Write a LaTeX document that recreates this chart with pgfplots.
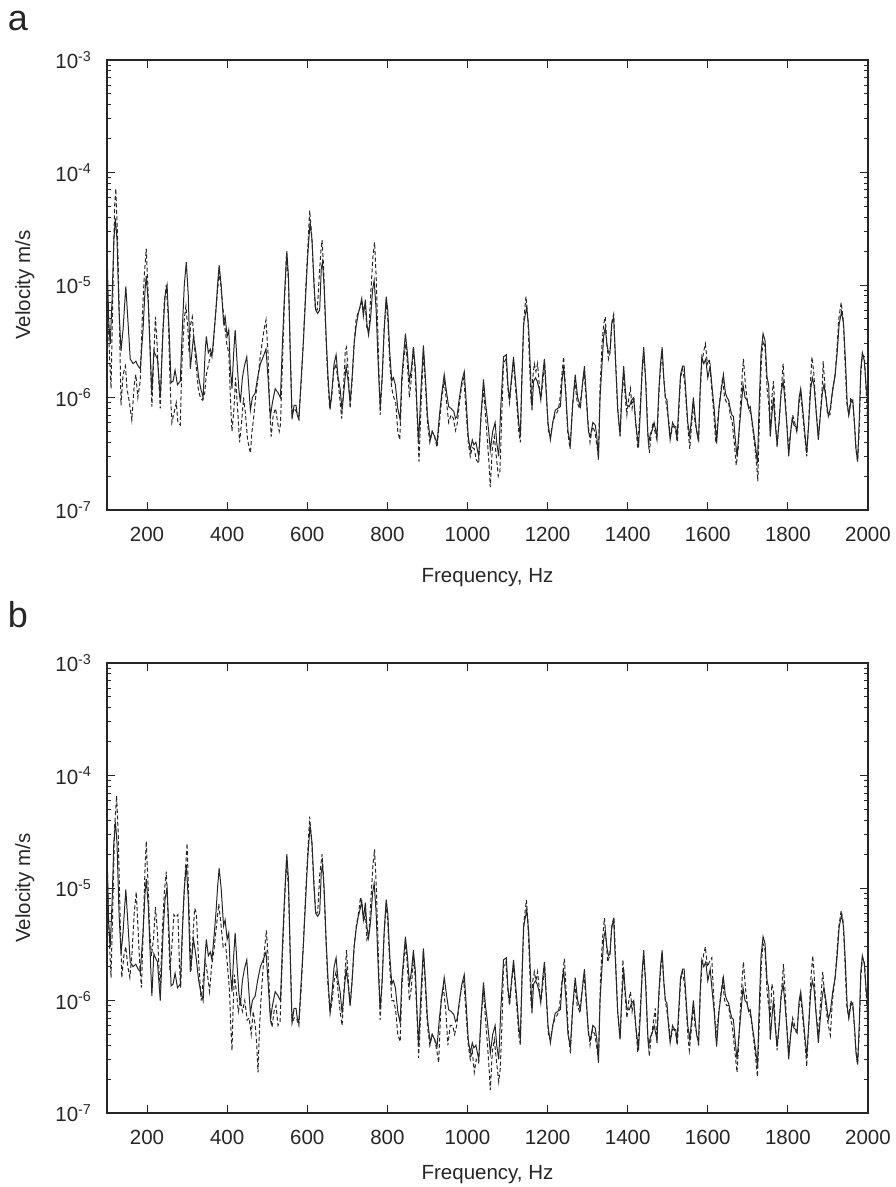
\documentclass[border=0pt]{standalone}
\usepackage{fontspec}
\setmainfont{Liberation Sans}
\usepackage{pgfplots}
\pgfplotsset{compat=1.18}
\usepackage{pgfplotstable}

\pgfplotstableread{
f v
100 2.2e-5
104 5e-6
108 3.0e-6
113 8e-6
117 2.5e-5
121 3.9e-5
125 2.5e-5
130 6e-6
135 2.6e-6
140 4e-6
147 9.7e-6
152 5e-6
158 2.2e-6
165 2.0e-6
172 2.1e-6
178 1.9e-6
183 1.8e-6
190 4e-6
195 9e-6
198 1.2e-5
203 7e-6
208 2.5e-6
212 1.1e-6
217 2.6e-6
221 2.4e-6
226 2.2e-6
233 1.0e-6
240 4e-6
245 8e-6
250 1.0e-5
255 4e-6
260 1.35e-6
265 1.4e-6
270 1.75e-6
276 1.3e-6
283 1.4e-6
288 4e-6
293 1.0e-5
298 1.6e-5
303 8e-6
308 1.8e-6
312 2.5e-6
316 3.5e-6
322 2.5e-6
329 1.5e-6
334 1.2e-6
340 1.0e-6
345 2.5e-6
348 3.5e-6
353 2.5e-6
358 2.7e-6
362 2.3e-6
368 4e-6
372 6e-6
376 1.0e-5
380 1.5e-5
385 1.0e-5
391 4.6e-6
395 5.2e-6
400 3.5e-6
404 4.0e-6
408 1.8e-6
412 1.2e-6
416 2.4e-6
420 4.0e-6
425 2.0e-6
429 1.2e-6
433 9e-7
438 1.5e-6
443 1.9e-6
449 2.3e-6
453 1.4e-6
458 7.7e-7
463 1.0e-6
470 1.1e-6
476 1.5e-6
483 2.0e-6
490 2.3e-6
497 2.7e-6
502 1.5e-6
508 6.8e-7
513 9e-7
520 1.2e-6
527 1.1e-6
533 1.0e-6
538 3e-6
543 8e-6
549 2.0e-5
553 1.2e-5
557 3e-6
562 6.4e-7
567 8.5e-7
572 8.5e-7
575 7e-7
579 6.4e-7
585 1.5e-6
590 3e-6
596 8e-6
601 1.8e-5
607 3.6e-5
612 2.5e-5
617 1.0e-5
621 6e-6
626 5.6e-6
631 6e-6
635 1.4e-5
638 1.6e-5
642 1.0e-5
647 3.5e-6
652 1.5e-6
657 7.8e-7
662 1.2e-6
667 2.0e-6
672 2.4e-6
677 1.5e-6
682 1.2e-6
687 7.7e-7
692 1.2e-6
697 1.9e-6
702 1.4e-6
707 9e-7
712 1.5e-6
717 3e-6
722 4.3e-6
727 5.5e-6
732 6.5e-6
736 7.6e-6
740 5.3e-6
745 7.4e-6
749 4.5e-6
753 3.6e-6
758 5e-6
763 9e-6
767 1.1e-5
772 6e-6
777 2e-6
782 8.3e-7
787 1.5e-6
792 4e-6
797 7.9e-6
801 6e-6
806 2.5e-6
811 1.4e-6
815 1.5e-6
820 1.3e-6
826 8e-7
832 6.3e-7
836 1.5e-6
841 2.5e-6
845 3.7e-6
850 2.5e-6
855 1.4e-6
860 1.8e-6
865 2.8e-6
870 1.8e-6
874 8e-7
878 4.0e-7
884 1.2e-6
890 2.9e-6
895 1.5e-6
900 7e-7
907 4.2e-7
912 5.0e-7
918 4.5e-7
924 3.9e-7
930 7e-7
936 1.1e-6
942 1.6e-6
948 1.1e-6
953 8.3e-7
959 8e-7
966 7.5e-7
970 6.5e-7
974 6.8e-7
980 1.0e-6
986 1.4e-6
992 1.7e-6
997 9e-7
1002 4.5e-7
1007 3.4e-7
1012 4.2e-7
1016 3.8e-7
1021 4.0e-7
1028 3.0e-7
1035 8e-7
1040 1.45e-6
1045 9e-7
1049 6.8e-7
1053 5e-7
1057 3.4e-7
1063 5e-7
1069 6e-7
1073 4e-7
1078 3.0e-7
1083 8e-7
1090 2.3e-6
1097 2.4e-6
1101 1.3e-6
1105 9.5e-7
1110 1.5e-6
1115 2.3e-6
1120 1.4e-6
1124 9.5e-7
1128 6e-7
1132 4.5e-7
1136 1.5e-6
1140 4.5e-6
1148 6.4e-6
1153 4.0e-6
1157 1.8e-6
1161 7.7e-7
1165 1.4e-6
1170 1.5e-6
1174 1.4e-6
1179 1.2e-6
1183 9.5e-7
1188 1.6e-6
1192 2.2e-6
1196 1.2e-6
1201 6e-7
1207 4.2e-7
1213 6e-7
1219 7.7e-7
1225 8e-7
1232 8.3e-7
1236 1.4e-6
1240 1.9e-6
1246 1.0e-6
1251 5e-7
1257 3.9e-7
1263 9e-7
1269 1.6e-6
1275 1.0e-6
1282 8.3e-7
1287 1.3e-6
1292 1.9e-6
1297 1.0e-6
1302 5e-7
1307 4.5e-7
1313 6e-7
1319 5.7e-7
1323 4.5e-7
1327 2.8e-7
1331 1.0e-6
1336 2.0e-6
1340 3.5e-6
1344 4.2e-6
1348 3.0e-6
1352 2.5e-6
1356 2.6e-6
1360 4.5e-6
1365 5.2e-6
1370 2.0e-6
1375 8e-7
1381 4.6e-7
1385 1.0e-6
1390 1.9e-6
1394 1.2e-6
1398 8.5e-7
1404 8.3e-7
1410 9.5e-7
1415 1.0e-6
1420 6e-7
1427 3.6e-7
1432 8e-7
1436 1.8e-6
1440 2.8e-6
1445 1.4e-6
1450 5e-7
1452 3.9e-7
1457 4.8e-7
1461 5.1e-7
1466 6e-7
1473 4.5e-7
1478 1.2e-6
1482 2.0e-6
1486 2.8e-6
1490 1.5e-6
1494 1.0e-6
1498 9.5e-7
1502 6e-7
1506 4.2e-7
1512 6e-7
1516 5.6e-7
1520 5.5e-7
1523 4.2e-7
1528 9e-7
1532 1.6e-6
1537 1.9e-6
1541 1.9e-6
1546 1.0e-6
1550 6e-7
1555 4.5e-7
1560 7e-7
1564 1.0e-6
1568 7e-7
1572 5e-7
1577 4.2e-7
1581 1.2e-6
1585 2.3e-6
1590 2.0e-6
1595 2.2e-6
1600 1.5e-6
1606 1.9e-6
1611 1.2e-6
1616 8e-7
1622 3.9e-7
1628 8e-7
1634 1.2e-6
1639 1.6e-6
1644 1.1e-6
1648 1.0e-6
1652 9.5e-7
1656 8e-7
1660 7e-7
1664 6.8e-7
1668 4.5e-7
1673 3.0e-7
1678 5e-7
1683 8e-7
1688 1.3e-6
1693 1.0e-6
1698 9.5e-7
1702 8e-7
1706 8.3e-7
1711 6e-7
1716 4.5e-7
1720 3.5e-7
1724 2.6e-7
1728 8e-7
1733 2.5e-6
1738 3.7e-6
1743 3.2e-6
1748 1.5e-6
1752 1.3e-6
1756 4.5e-7
1760 7e-7
1764 1.0e-6
1768 6e-7
1773 3.9e-7
1778 6e-7
1783 1.1e-6
1788 1.4e-6
1792 1.0e-6
1797 6e-7
1802 3.0e-7
1807 5e-7
1811 6.5e-7
1815 5.7e-7
1820 5.5e-7
1823 5.2e-7
1828 1.0e-6
1832 1.2e-6
1837 8e-7
1842 5e-7
1847 3.2e-7
1852 6e-7
1857 1.2e-6
1861 1.5e-6
1865 1.3e-6
1870 8e-7
1876 4.2e-7
1881 7e-7
1886 1.1e-6
1890 1.3e-6
1895 1.0e-6
1901 6.8e-7
1906 8e-7
1912 1.2e-6
1918 1.6e-6
1923 2.5e-6
1928 4.5e-6
1934 5.8e-6
1939 4.5e-6
1944 2.0e-6
1948 9e-7
1952 7e-7
1957 9e-7
1962 9.5e-7
1966 6e-7
1970 3.5e-7
1974 2.7e-7
1978 6e-7
1982 1.8e-6
1986 2.5e-6
1991 2.1e-6
1995 1.3e-6
2000 9e-7
}\solid

\pgfplotstableread{
f v
100 1.0e-5
105 3e-6
110 1.2e-6
115 1.0e-5
119 5e-5
122 7.2e-5
126 3e-5
131 5e-6
135 8.5e-7
140 1.6e-6
146 1.9e-6
150 1.2e-6
156 9e-7
162 6.3e-7
168 1.3e-6
172 1.6e-6
177 1.0e-6
183 1.4e-6
188 5e-6
193 1.2e-5
198 2.1e-5
202 1.0e-5
207 3e-6
212 8.3e-7
216 2e-6
221 5.2e-6
225 3e-6
230 1.3e-6
233 8e-7
238 3e-6
243 7e-6
248 1.0e-5
253 5e-6
258 1.2e-6
262 6e-7
268 7.5e-7
273 9e-7
277 6e-7
283 5.7e-7
287 2e-6
293 5e-6
297 6.5e-6
302 4e-6
305 2.5e-6
309 4.5e-6
313 5.2e-6
318 3e-6
322 2e-6
328 1.2e-6
333 1.0e-6
338 9.5e-7
344 1.1e-6
348 1.6e-6
354 2.0e-6
359 2.5e-6
364 2.5e-6
370 5e-6
375 8e-6
380 1.3e-5
384 1.0e-5
390 6e-6
395 4e-6
399 3e-6
404 2.5e-6
408 1.0e-6
412 5e-7
417 8e-7
421 1.5e-6
426 8e-7
431 4.0e-7
436 6e-7
441 1.0e-6
446 7e-7
451 4.2e-7
458 3.2e-7
462 5e-7
466 6.5e-7
471 1.0e-6
477 1.5e-6
482 2.2e-6
487 3e-6
492 4e-6
497 4.9e-6
502 2.5e-6
506 8e-7
510 4.5e-7
515 7e-7
521 8e-7
526 6e-7
530 5e-7
533 5.7e-7
538 2e-6
543 7e-6
548 1.8e-5
553 1.1e-5
557 3e-6
562 7e-7
567 8e-7
573 7.5e-7
579 6.5e-7
585 1.4e-6
590 3e-6
596 9e-6
601 2.0e-5
606 4.6e-5
611 2.8e-5
616 1.2e-5
620 6e-6
625 6e-6
630 1.2e-5
634 2.0e-5
637 2.5e-5
641 1.4e-5
646 4e-6
651 1.5e-6
656 8e-7
661 1.0e-6
666 1.7e-6
671 2.0e-6
676 1.5e-6
681 1.0e-6
686 6.5e-7
691 1.3e-6
695 2.6e-6
698 2.8e-6
703 1.5e-6
707 8e-7
712 1.4e-6
717 3e-6
722 5e-6
728 5.8e-6
733 6.5e-6
737 7e-6
741 6e-6
745 6.5e-6
749 4e-6
754 4e-6
759 9e-6
764 1.8e-5
768 2.4e-5
772 1.2e-5
777 3e-6
782 7e-7
787 1.5e-6
792 4e-6
797 7e-6
801 5e-6
806 2e-6
811 1.2e-6
816 1.0e-6
821 9e-7
826 5e-7
831 4.2e-7
836 1.3e-6
841 2.2e-6
846 3.0e-6
850 2.0e-6
855 1.0e-6
860 1.5e-6
865 2.8e-6
870 1.5e-6
875 6e-7
879 2.7e-7
885 1.0e-6
890 2.6e-6
895 1.3e-6
900 6e-7
906 4e-7
912 5e-7
918 4.5e-7
924 3.6e-7
930 6e-7
936 1.0e-6
942 1.4e-6
948 9e-7
953 6e-7
959 7e-7
965 6.5e-7
970 5.1e-7
975 6e-7
980 9e-7
986 1.3e-6
991 1.5e-6
996 8e-7
1002 4e-7
1007 3e-7
1012 3.6e-7
1017 3.5e-7
1022 2.8e-7
1028 2.6e-7
1034 7e-7
1040 1.2e-6
1045 7e-7
1050 4e-7
1054 2.5e-7
1057 1.6e-7
1062 3.5e-7
1067 4.5e-7
1072 3e-7
1077 2.0e-7
1081 2.2e-7
1085 6e-7
1090 2e-6
1096 2.2e-6
1101 1.2e-6
1105 9e-7
1110 1.4e-6
1115 2.1e-6
1120 1.2e-6
1124 8e-7
1128 5e-7
1132 4e-7
1136 1.6e-6
1141 5e-6
1146 7.9e-6
1151 5e-6
1155 2e-6
1159 9e-7
1163 1.5e-6
1167 2.0e-6
1171 1.7e-6
1175 2.0e-6
1180 1.2e-6
1184 1.0e-6
1189 1.5e-6
1193 2.0e-6
1197 1.1e-6
1202 5e-7
1207 4.5e-7
1213 6e-7
1219 7e-7
1225 7.5e-7
1230 9e-7
1235 1.5e-6
1240 2.3e-6
1245 1.2e-6
1250 5e-7
1256 3.5e-7
1262 8e-7
1268 1.4e-6
1274 9e-7
1280 8e-7
1286 1.2e-6
1291 1.7e-6
1296 1.0e-6
1301 6e-7
1306 4e-7
1312 5.5e-7
1318 5e-7
1322 4e-7
1327 3e-7
1331 1.2e-6
1336 3e-6
1340 4.5e-6
1344 5.2e-6
1348 3e-6
1352 2.2e-6
1356 2.5e-6
1361 4.8e-6
1365 5.5e-6
1370 2e-6
1375 8e-7
1381 4.5e-7
1385 1.0e-6
1390 1.6e-6
1394 1.0e-6
1398 7e-7
1403 1.0e-6
1407 1.2e-6
1411 8e-7
1415 1.0e-6
1420 6e-7
1425 3.5e-7
1431 8e-7
1436 1.6e-6
1440 2.5e-6
1445 1.4e-6
1450 5e-7
1454 3.2e-7
1458 4.5e-7
1463 6e-7
1468 5e-7
1473 4.2e-7
1478 1.1e-6
1482 1.8e-6
1486 2.6e-6
1490 1.5e-6
1494 1.0e-6
1498 8e-7
1503 6e-7
1507 4.5e-7
1512 5.5e-7
1516 5.5e-7
1520 5e-7
1524 4e-7
1528 8e-7
1532 1.5e-6
1537 1.8e-6
1542 1.4e-6
1546 9e-7
1551 5e-7
1555 3.5e-7
1560 6e-7
1564 9e-7
1568 6e-7
1573 5e-7
1577 4e-7
1581 1.1e-6
1585 2.0e-6
1590 2.6e-6
1594 3.0e-6
1599 2.0e-6
1604 2.2e-6
1609 1.3e-6
1614 8e-7
1620 4e-7
1626 7e-7
1632 1.1e-6
1637 1.5e-6
1642 1.0e-6
1647 9e-7
1652 9e-7
1656 7e-7
1661 6e-7
1666 4e-7
1671 2.5e-7
1676 3.5e-7
1681 8e-7
1686 1.6e-6
1689 2.2e-6
1694 1.3e-6
1699 9e-7
1703 8e-7
1708 7e-7
1713 5e-7
1718 3.5e-7
1722 2.5e-7
1725 1.8e-7
1729 7e-7
1734 2.2e-6
1738 3.2e-6
1743 2.8e-6
1748 1.2e-6
1752 9e-7
1756 5e-7
1760 1.0e-6
1764 1.4e-6
1768 7e-7
1773 3.6e-7
1778 6e-7
1783 1.1e-6
1788 2.0e-6
1792 1.2e-6
1797 6e-7
1802 3.5e-7
1807 5e-7
1812 7e-7
1817 6e-7
1822 5e-7
1828 9e-7
1832 1.1e-6
1837 7e-7
1842 4.5e-7
1847 3e-7
1852 6e-7
1856 1.3e-6
1860 2.3e-6
1865 1.6e-6
1870 8e-7
1876 4.5e-7
1881 7e-7
1886 1.3e-6
1888 2.1e-6
1893 1.2e-6
1899 7e-7
1905 7e-7
1911 1.1e-6
1917 1.5e-6
1922 2.5e-6
1927 5e-6
1933 7e-6
1938 5e-6
1943 2.0e-6
1947 9e-7
1952 7e-7
1957 1.0e-6
1962 9e-7
1966 6e-7
1970 3.5e-7
1974 2.7e-7
1978 5e-7
1982 1.6e-6
1986 2.4e-6
1991 2.3e-6
1995 1.2e-6
2000 5e-7
}\dasha

\pgfplotstableread{
f v
100 2.0e-5
104 5e-6
110 1.6e-6
115 8e-6
119 3.5e-5
124 6.6e-5
128 3e-5
133 5e-6
137 1.6e-6
142 2.5e-6
147 3e-6
152 2.0e-6
157 1.6e-6
162 2.5e-6
168 6e-6
173 9.2e-6
178 4e-6
182 2e-6
186 1.3e-6
191 5e-6
195 1.5e-5
198 2.6e-5
202 1.2e-5
207 4e-6
211 2.5e-6
216 3.5e-6
221 6.8e-6
226 4e-6
230 1.8e-6
233 1.3e-6
238 4e-6
243 9e-6
248 1.4e-5
252 6e-6
257 1.85e-6
262 3e-6
267 5.8e-6
272 5.5e-6
277 5.8e-6
281 2.0e-6
284 1.3e-6
289 5e-6
295 1.3e-5
300 2.5e-5
305 6e-6
310 1.85e-6
315 4e-6
319 6.6e-6
323 6e-6
328 2.5e-6
335 1.0e-6
340 1.5e-6
345 2.3e-6
350 1.8e-6
356 1.2e-6
361 2.0e-6
367 2.8e-6
373 4.5e-6
379 7.2e-6
384 5e-6
390 3e-6
396 3.2e-6
401 2.0e-6
406 1.2e-6
409 6e-7
412 3.6e-7
415 9e-7
418 1.7e-6
423 1.2e-6
428 8e-7
433 1.0e-6
438 8e-7
444 1.0e-6
450 6.7e-7
455 7e-7
460 5e-7
465 8e-7
470 6e-7
474 4e-7
477 2.3e-7
481 6e-7
485 1.1e-6
490 2.0e-6
494 3e-6
498 4.2e-6
502 2.5e-6
507 8e-7
512 5.8e-7
517 8e-7
522 9e-7
527 6e-7
532 6.5e-7
537 2e-6
543 7e-6
548 1.7e-5
553 1.0e-5
557 3e-6
562 6.2e-7
567 7e-7
573 7e-7
579 6e-7
585 1.3e-6
590 3e-6
596 9e-6
601 2.0e-5
606 4.3e-5
611 2.6e-5
616 1.2e-5
621 6e-6
626 6e-6
631 1.3e-5
637 2.0e-5
641 1.2e-5
646 4e-6
651 1.5e-6
657 7.6e-7
662 1.0e-6
667 1.5e-6
672 1.8e-6
677 1.2e-6
682 8e-7
687 6e-7
692 1.3e-6
698 2.8e-6
703 1.4e-6
707 9e-7
712 1.5e-6
717 3e-6
722 4.5e-6
728 6e-6
733 8.3e-6
737 7e-6
741 5e-6
745 6e-6
749 3.5e-6
754 4e-6
759 8e-6
764 1.6e-5
768 2.2e-5
772 1.1e-5
777 3e-6
782 6.7e-7
787 1.5e-6
792 4e-6
797 7.2e-6
801 5e-6
806 2e-6
811 1.0e-6
816 1.0e-6
821 8e-7
826 5e-7
832 4.3e-7
836 1.3e-6
841 2.2e-6
846 3.2e-6
850 2.0e-6
855 1.0e-6
860 1.3e-6
865 2.5e-6
870 1.5e-6
875 6e-7
878 3.1e-7
885 1.0e-6
890 2.8e-6
895 1.3e-6
900 6e-7
906 4e-7
912 5e-7
918 4.5e-7
924 3.5e-7
928 2.8e-7
934 1.0e-6
940 1.3e-6
946 8e-7
951 4e-7
957 6e-7
963 6e-7
968 5e-7
973 6e-7
979 9e-7
985 1.3e-6
991 1.5e-6
996 8e-7
1002 4e-7
1007 3e-7
1012 3.6e-7
1017 2.3e-7
1022 3e-7
1028 2.8e-7
1034 7e-7
1040 1.2e-6
1045 7e-7
1050 4e-7
1054 2.5e-7
1057 1.6e-7
1062 3.5e-7
1067 4.5e-7
1072 3e-7
1078 1.9e-7
1082 2.5e-7
1086 6e-7
1090 2e-6
1096 2.2e-6
1101 1.2e-6
1105 9e-7
1110 1.4e-6
1115 2.1e-6
1120 1.2e-6
1124 8e-7
1128 5e-7
1132 4e-7
1136 1.6e-6
1141 5e-6
1147 7.8e-6
1151 5e-6
1155 2e-6
1159 9e-7
1163 1.5e-6
1167 1.8e-6
1171 1.5e-6
1175 1.8e-6
1180 1.2e-6
1184 1.0e-6
1189 1.5e-6
1193 2.0e-6
1197 1.1e-6
1202 5e-7
1207 4.5e-7
1213 6e-7
1219 7e-7
1225 7.5e-7
1230 9e-7
1236 1.5e-6
1242 2.35e-6
1247 1.1e-6
1252 5e-7
1257 3.4e-7
1262 8e-7
1268 1.4e-6
1274 9e-7
1280 8e-7
1286 1.2e-6
1291 1.7e-6
1296 1.0e-6
1301 6e-7
1306 4e-7
1312 5.5e-7
1318 5e-7
1322 4e-7
1327 3e-7
1332 1.5e-6
1337 3.5e-6
1342 5.4e-6
1346 3.5e-6
1350 2.2e-6
1355 2.5e-6
1361 4.8e-6
1366 5.5e-6
1370 2.2e-6
1375 8e-7
1381 4.5e-7
1385 1.0e-6
1388 2.3e-6
1393 1.2e-6
1398 7e-7
1403 1.0e-6
1407 1.2e-6
1411 8e-7
1415 1.0e-6
1420 6e-7
1425 3.5e-7
1431 8e-7
1436 1.6e-6
1440 2.5e-6
1445 1.4e-6
1450 5e-7
1454 3.2e-7
1458 4.5e-7
1463 6e-7
1469 8.5e-7
1473 4.2e-7
1478 1.1e-6
1482 1.8e-6
1486 2.6e-6
1490 1.5e-6
1494 1.0e-6
1498 8e-7
1503 6e-7
1507 4.5e-7
1512 5.5e-7
1516 5.5e-7
1520 5e-7
1524 4e-7
1528 8e-7
1532 1.5e-6
1537 1.8e-6
1542 1.4e-6
1546 9e-7
1551 4.5e-7
1554 3.6e-7
1560 6e-7
1564 9e-7
1568 6e-7
1573 5e-7
1577 4e-7
1581 1.1e-6
1585 2.0e-6
1590 2.6e-6
1594 3.0e-6
1599 2.0e-6
1604 2.2e-6
1610 2.4e-6
1614 1.2e-6
1620 5e-7
1626 7e-7
1632 1.1e-6
1637 1.5e-6
1642 1.0e-6
1647 9e-7
1652 9e-7
1656 7e-7
1661 6e-7
1666 4e-7
1673 2.3e-7
1677 4e-7
1681 8e-7
1686 1.6e-6
1689 2.2e-6
1694 1.3e-6
1699 9e-7
1703 8e-7
1708 7e-7
1713 5e-7
1718 3.5e-7
1724 2.1e-7
1729 7e-7
1734 2.2e-6
1738 3.2e-6
1743 2.8e-6
1748 1.2e-6
1752 9e-7
1756 7e-7
1760 1.4e-6
1764 1.2e-6
1768 7e-7
1773 3.6e-7
1778 6e-7
1784 1.2e-6
1789 2.1e-6
1793 1.2e-6
1797 6e-7
1802 3.5e-7
1807 5e-7
1812 7e-7
1817 6e-7
1822 5e-7
1828 9e-7
1832 1.1e-6
1837 7e-7
1842 4.5e-7
1847 2.6e-7
1852 6e-7
1857 1.5e-6
1862 2.5e-6
1866 1.6e-6
1870 8e-7
1876 5e-7
1881 9e-7
1887 1.8e-6
1891 1.2e-6
1896 8e-7
1901 6e-7
1906 4.9e-7
1911 1.0e-6
1917 1.5e-6
1922 2.5e-6
1927 4.5e-6
1933 6.3e-6
1938 5e-6
1943 2.0e-6
1947 9e-7
1952 7e-7
1957 1.0e-6
1962 9e-7
1966 6e-7
1970 3.5e-7
1974 2.7e-7
1978 5e-7
1982 1.6e-6
1986 2.4e-6
1991 2.2e-6
1995 1.2e-6
2000 6e-7
}\dashb

\tikzset{
  solidl/.style={black!85, line width=1pt},
  dashl/.style={black!85, line width=1pt, dash pattern=on 4pt off 2.5pt},
}

\begin{document}
\begin{tikzpicture}[x=1pt,y=1pt]
\useasboundingbox (0,0) rectangle (895,-1187);
\node[font=\fontsize{36}{42}\selectfont, text=black!85] at (18,-21) {a};
\node[font=\fontsize{36}{42}\selectfont, text=black!85] at (18,-615) {b};
\begin{axis}[
    at={(107pt,-60pt)}, anchor=north west,
    width=761pt, height=450pt, scale only axis,
    xmin=100, xmax=2000, ymode=log, ymin=1e-7, ymax=1e-3,
    xtick={200,400,600,800,1000,1200,1400,1600,1800,2000},
    ytick={1e-7,1e-6,1e-5,1e-4,1e-3},
    yticklabels={10\textsuperscript{-7},10\textsuperscript{-6},10\textsuperscript{-5},10\textsuperscript{-4},10\textsuperscript{-3}},
    xticklabel style={font=\fontsize{20.5}{24}\selectfont, text=black!85, yshift=-14pt, /pgf/number format/1000 sep={}, /pgf/number format/assume math mode=true},
    yticklabel style={font=\fontsize{20.5}{24}\selectfont, text=black!85, xshift=-12pt},
    xlabel={Frequency, Hz},
    ylabel={Velocity m/s},
    xlabel style={font=\fontsize{20.5}{24}\selectfont, text=black!85, at={(axis description cs:0.5,-0.151)}, anchor=center},
    ylabel style={font=\fontsize{20.5}{24}\selectfont, text=black!85, at={(axis description cs:-0.108,0.5)}, anchor=center},
    tick align=inside,
    major tick length=8pt,
    minor tick length=4.5pt,
    every tick/.append style={line width=0.9pt, black!85},
    axis line style={line width=1.8pt, black!85},
  ]
\addplot[solidl] table[x=f,y=v]{\solid};
\addplot[dashl] table[x=f,y=v]{\dasha};
\end{axis}
\begin{axis}[
    at={(107pt,-663pt)}, anchor=north west,
    width=761pt, height=450pt, scale only axis,
    xmin=100, xmax=2000, ymode=log, ymin=1e-7, ymax=1e-3,
    xtick={200,400,600,800,1000,1200,1400,1600,1800,2000},
    ytick={1e-7,1e-6,1e-5,1e-4,1e-3},
    yticklabels={10\textsuperscript{-7},10\textsuperscript{-6},10\textsuperscript{-5},10\textsuperscript{-4},10\textsuperscript{-3}},
    xticklabel style={font=\fontsize{20.5}{24}\selectfont, text=black!85, yshift=-14pt, /pgf/number format/1000 sep={}, /pgf/number format/assume math mode=true},
    yticklabel style={font=\fontsize{20.5}{24}\selectfont, text=black!85, xshift=-12pt},
    xlabel={Frequency, Hz},
    ylabel={Velocity m/s},
    xlabel style={font=\fontsize{20.5}{24}\selectfont, text=black!85, at={(axis description cs:0.5,-0.137)}, anchor=center},
    ylabel style={font=\fontsize{20.5}{24}\selectfont, text=black!85, at={(axis description cs:-0.108,0.5)}, anchor=center},
    tick align=inside,
    major tick length=8pt,
    minor tick length=4.5pt,
    every tick/.append style={line width=0.9pt, black!85},
    axis line style={line width=1.8pt, black!85},
  ]
\addplot[solidl] table[x=f,y=v]{\solid};
\addplot[dashl] table[x=f,y=v]{\dashb};
\end{axis}
\end{tikzpicture}
\end{document}
